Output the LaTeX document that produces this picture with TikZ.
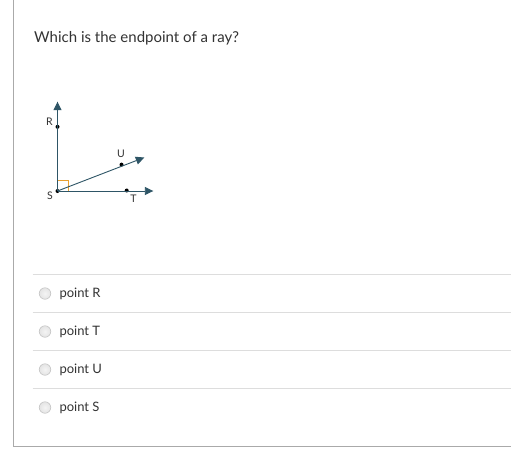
\documentclass[tikz,border=0pt]{standalone}
\usepackage{fontspec}
\setmainfont{Lato}
\usetikzlibrary{arrows.meta}
\definecolor{txt}{HTML}{333333}
\definecolor{ray}{HTML}{2E5566}
\definecolor{sep}{HTML}{DDDDDD}
\definecolor{frame}{HTML}{AAAAAA}
\definecolor{ang}{HTML}{E8A030}
\definecolor{radiofill}{HTML}{E4E4E4}
\definecolor{radioedge}{HTML}{C4C4C4}
\tikzset{
  raybox/.style={draw=ray, line width=0.9pt, -{Triangle[length=8.5pt,width=8pt]}},
  ptdot/.style={circle, fill=black, inner sep=0pt, minimum size=4pt},
  ptlbl/.style={font=\fontsize{10.5}{12}\selectfont, text=txt, inner sep=0pt},
  opt/.style={font=\fontsize{13}{15}\selectfont, text=txt, anchor=base west, inner sep=0pt},
  radio/.style={circle, draw=radioedge, line width=0.6pt, inner color=white!60!radiofill, outer color=radiofill, minimum size=11.5pt, inner sep=0pt},
  sepline/.style={draw=sep, line width=0.8pt},
}
\begin{document}
\begin{tikzpicture}[x=1pt,y=-1pt]
\useasboundingbox (0,0) rectangle (511,453);
\fill[white] (0,0) rectangle (511,453);
% frame
\draw[frame, line width=1pt] (13,0) -- (13,446) -- (511,446);
% title
\node[anchor=base west, inner sep=0pt, font=\fontsize{15}{18}\selectfont, text=txt] (title) at (34,42.5) {Which is the endpoint of a ray?};
% geometry
\coordinate (Rend) at (57.5,101.7);
\coordinate (Tend) at (153.3,191);
\coordinate (Uend) at (144.3,157.5);
\node[ptdot] (S) at (57.5,191) {};
\node[ptdot] (R) at (57.5,126.8) {};
\node[ptdot] (T) at (126.7,190.5) {};
\node[ptdot] (U) at (121.5,164.6) {};
\draw[ang, line width=0.7pt] (57.5,180.2) -| (68.5,191);
\draw[raybox] (S.center) -- (Rend);
\draw[raybox] (S.center) -- (Tend);
\draw[raybox] (S.center) -- (Uend);
\node[ptlbl] (Rl) at (49.5,121.5) {R};
\node[ptlbl] (Ul) at (121,153.5) {U};
\node[ptlbl] (Sl) at (50,196) {S};
\node[ptlbl] (Tl) at (133.5,199) {T};
% separators
\foreach \y in {274,312,350,388} \draw[sepline] (32.5,\y) -- (511,\y);
% options
\node[radio] (r1) at (45,293.5) {};
\node[radio] (r2) at (45,331.5) {};
\node[radio] (r3) at (45,369.5) {};
\node[radio] (r4) at (45,407.5) {};
\node[opt] (o1) at (59.3,297.5) {point R};
\node[opt] (o2) at (59.3,335.5) {point T};
\node[opt] (o3) at (59.3,373.5) {point U};
\node[opt] (o4) at (59.3,411.5) {point S};
\end{tikzpicture}
\end{document}
